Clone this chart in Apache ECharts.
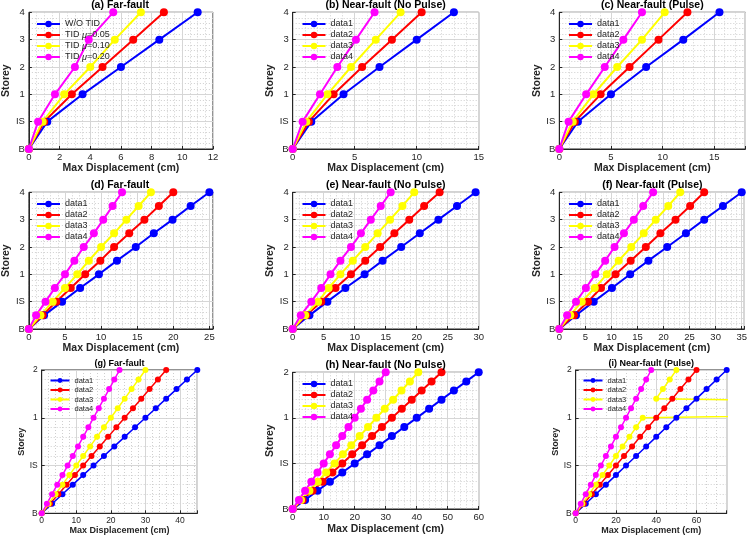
<!DOCTYPE html>
<html>
<head>
<meta charset="utf-8">
<script src="https://cdn.jsdelivr.net/npm/echarts@6/dist/echarts.min.js"></script>
<style>
html, body { margin: 0; padding: 0; background: #fff; }
#main { width: 750px; height: 539px; }
</style>
</head>
<body>
<div id="main"></div>
<script>
// storey axis labels and storey levels
var storeyTall = ['B', 'IS', '1', '2', '3', '4'];
var storeyShort = ['B', 'IS', '1', '2'];
var levelsA = [0, 1, 2, 3, 4, 5];
var levelsD = [0, 0.5, 1, 1.5, 2, 2.5, 3, 3.5, 4, 4.5, 5];
var levelsG = [0, 0.2, 0.4, 0.6, 0.8, 1, 1.2, 1.4, 1.6, 1.8, 2, 2.2, 2.4, 2.6, 2.8, 3];

var tidNames = ['W/O TID', 'TID μ=0.05', 'TID μ=0.10', 'TID μ=0.20'];
var dataNames = ['data1', 'data2', 'data3', 'data4'];
var colors = ['#0000ff', '#ff0000', '#ffff00', '#ff00ff'];

// (a) Far-fault
var a1 = [0, 1.2, 3.5, 6.0, 8.5, 11.0];
var a2 = [0, 1.0, 2.8, 4.8, 6.8, 8.8];
var a3 = [0, 0.9, 2.3, 4.0, 5.6, 7.3];
var a4 = [0, 0.6, 1.7, 3.0, 3.9, 5.5];
// (b) Near-fault (No Pulse)
var b1 = [0, 1.5, 4.1, 7.0, 10.0, 13.0];
var b2 = [0, 1.3, 3.3, 5.6, 8.0, 10.4];
var b3 = [0, 1.1, 2.8, 4.7, 6.7, 8.7];
var b4 = [0, 0.8, 2.2, 3.6, 5.1, 6.6];
// (c) Near-fault (Pulse)
var c1 = [0, 1.8, 5.0, 8.4, 12.0, 15.5];
var c2 = [0, 1.5, 4.0, 6.8, 9.6, 12.4];
var c3 = [0, 1.3, 3.3, 5.6, 8.0, 10.2];
var c4 = [0, 0.9, 2.6, 4.4, 6.2, 8.0];
// (d) Far-fault
var d1 = [0, 2.1, 4.6, 7.1, 9.7, 12.2, 14.8, 17.3, 19.9, 22.4, 25.0];
var d2 = [0, 1.9, 3.8, 5.8, 7.8, 9.9, 11.8, 13.9, 16.0, 18.0, 20.0];
var d3 = [0, 1.6, 3.3, 5.0, 6.7, 8.3, 10.0, 11.8, 13.5, 15.2, 16.9];
var d4 = [0, 1.0, 2.3, 3.6, 5.0, 6.3, 7.6, 9.0, 10.3, 11.6, 12.9];
// (e) Near-fault (No Pulse)
var e1 = [0, 2.7, 5.6, 8.5, 11.6, 14.5, 17.5, 20.5, 23.5, 26.5, 29.5];
var e2 = [0, 2.2, 4.6, 6.9, 9.4, 11.7, 14.1, 16.4, 18.8, 21.2, 23.7];
var e3 = [0, 2.0, 4.1, 5.8, 7.7, 9.7, 11.7, 13.7, 15.7, 17.7, 19.6];
var e4 = [0, 1.3, 3.0, 4.6, 6.1, 7.7, 9.4, 11.0, 12.6, 14.2, 15.8];
// (f) Near-fault (Pulse)
var f1 = [0, 3.2, 6.6, 10.1, 13.6, 17.1, 20.7, 24.3, 27.8, 31.4, 35.0];
var f2 = [0, 2.8, 5.5, 8.0, 10.8, 13.7, 16.6, 19.4, 22.3, 25.1, 27.8];
var f3 = [0, 2.1, 4.3, 6.8, 9.1, 11.4, 13.8, 16.2, 18.5, 20.9, 23.2];
var f4 = [0, 1.5, 3.2, 5.1, 6.9, 8.8, 10.6, 12.4, 14.3, 16.1, 18.0];
// (g) Far-fault
var g1 = [0, 3, 6, 9, 12, 15, 18, 21, 24, 27, 30, 33, 36, 39, 42, 45];
var g2 = [0, 2.4, 4.8, 7.2, 9.6, 12, 14.4, 16.8, 19.2, 21.6, 24, 26.4, 28.8, 31.2, 33.6, 36];
var g3 = [0, 2, 4, 6, 8, 10, 12, 14, 16, 18, 20, 22, 24, 26, 28, 30];
var g4 = [0, 1.5, 3, 4.5, 6, 7.5, 9, 10.5, 12, 13.5, 15, 16.5, 18, 19.5, 21, 22.5];
// (h) Near-fault (No Pulse)
var h1 = [0, 4, 8, 12, 16, 20, 24, 28, 32, 36, 40, 44, 48, 52, 56, 60];
var h2 = [0, 3.2, 6.4, 9.6, 12.8, 16, 19.2, 22.4, 25.6, 28.8, 32, 35.2, 38.4, 41.6, 44.8, 48];
var h3 = [0, 2.7, 5.4, 8.1, 10.8, 13.5, 16.2, 18.9, 21.6, 24.3, 27, 29.7, 32.4, 35.1, 37.8, 40.5];
var h4 = [0, 2, 4, 6, 8, 10, 12, 14, 16, 18, 20, 22, 24, 26, 28, 30];
// (i) Near-fault (Pulse) - data3 has one stray value far off the axis
var i1 = [0, 5, 10, 15, 20, 25, 30, 35, 40, 45, 50, 55, 60, 65, 70, 75];
var i2 = [0, 4, 8, 12, 16, 20, 24, 28, 32, 36, 40, 44, 48, 52, 56, 60];
var i3 = [0, 3.3, 6.7, 10, 13.3, 16.7, 20, 23.3, 26.7, 30, 33.3, 366.7, 40, 43.3, 46.7, 50];
var i4 = [0, 2.5, 5, 7.5, 10, 12.5, 15, 17.5, 20, 22.5, 25, 27.5, 30, 32.5, 35, 37.5];

var big = { tick: 9.5, title: 10.5, name: 10.5, legend: 9, ms: 8, lw: 2, itemGap: 2, iw: 23 };
var small = { tick: 8.5, title: 9, name: 9, legend: 7.5, ms: 6, lw: 1.5, itemGap: 1.5, iw: 19 };

var panels = [
    { title: '(a) Far-fault', names: tidNames, ys: levelsA, xs: [a1, a2, a3, a4], xMax: 12, xInt: 2, xMinor: 4, labels: storeyTall,
      box: [27, 12.3, 186, 136.7], lg: [36, 19.5], xGap: 12, yGap: 13, f: big },
    { title: '(b) Near-fault (No Pulse)', names: dataNames, ys: levelsA, xs: [b1, b2, b3, b4], xMax: 15, xInt: 5, xMinor: 5, labels: storeyTall,
      box: [292.7, 12.3, 186, 136.7], lg: [301.5, 19.5], xGap: 12, yGap: 14, f: big },
    { title: '(c) Near-fault (Pulse)', names: dataNames, ys: levelsA, xs: [c1, c2, c3, c4], xMax: 18, xInt: 5, xMinor: 5, labels: storeyTall,
      box: [559.3, 12.3, 186, 136.7], lg: [568, 19.5], xGap: 12, yGap: 14, f: big },
    { title: '(d) Far-fault', names: dataNames, ys: levelsD, xs: [d1, d2, d3, d4], xMax: 25.5, xInt: 5, xMinor: 5, labels: storeyTall,
      box: [27, 192.3, 186, 136.7], lg: [36, 199.5], xGap: 12, yGap: 13, f: big },
    { title: '(e) Near-fault (No Pulse)', names: dataNames, ys: levelsD, xs: [e1, e2, e3, e4], xMax: 30, xInt: 5, xMinor: 5, labels: storeyTall,
      box: [292.7, 192.3, 186, 136.7], lg: [301.5, 199.5], xGap: 12, yGap: 14, f: big },
    { title: '(f) Near-fault (Pulse)', names: dataNames, ys: levelsD, xs: [f1, f2, f3, f4], xMax: 35.5, xInt: 5, xMinor: 5, labels: storeyTall,
      box: [559.3, 192.3, 186, 136.7], lg: [568, 199.5], xGap: 12, yGap: 14, f: big },
    { title: '(g) Far-fault', names: dataNames, ys: levelsG, xs: [g1, g2, g3, g4], xMax: 45, xInt: 10, xMinor: 5, labels: storeyShort,
      box: [41.7, 370, 155.6, 143.3], lg: [49.5, 376.5], xGap: 13, yGap: 10, f: small },
    { title: '(h) Near-fault (No Pulse)', names: dataNames, ys: levelsG, xs: [h1, h2, h3, h4], xMax: 60, xInt: 10, xMinor: 5, labels: storeyShort,
      box: [292.7, 372.3, 186, 136.7], lg: [301.5, 379.5], xGap: 15, yGap: 14, f: big },
    { title: '(i) Near-fault (Pulse)', names: dataNames, ys: levelsG, xs: [i1, i2, i3, i4], xMax: 75, xInt: 20, xMinor: 4, labels: storeyShort,
      box: [575.7, 370, 151, 143.3], lg: [582.5, 376.5], xGap: 13, yGap: 10, f: small }
];

var font = 'Liberation Sans, Arial, sans-serif';
var grids = [], xAxes = [], yAxes = [], series = [], legends = [], titles = [];

panels.forEach(function (p, i) {
    var b = p.box, f = p.f;
    grids.push({ left: b[0], top: b[1], width: b[2], height: b[3], show: true, borderColor: '#262626', borderWidth: 1 });
    xAxes.push({
        gridIndex: i, type: 'value', min: 0, max: p.xMax, interval: p.xInt,
        name: 'Max Displacement (cm)', nameLocation: 'middle', nameGap: p.xGap,
        nameTextStyle: { fontFamily: font, fontWeight: 'bold', fontSize: f.name, color: '#262626' },
        axisLine: { show: true, lineStyle: { color: '#262626', width: 1 } },
        axisTick: { show: true, inside: true, length: 3, lineStyle: { color: '#262626' } },
        axisLabel: { fontFamily: font, fontSize: f.tick, color: '#262626', margin: 3,
            formatter: function (v) { return v % p.xInt === 0 ? String(v) : ''; } },
        splitLine: { show: true, lineStyle: { color: '#d6d6d6', width: 1 } },
        minorTick: { show: false, splitNumber: p.xMinor },
        minorSplitLine: { show: true, lineStyle: { color: '#cfcfcf', type: [1, 2], width: 1 } }
    });
    yAxes.push({
        gridIndex: i, type: 'value', min: 0, max: p.labels.length - 1, interval: 1,
        name: 'Storey', nameLocation: 'middle', nameGap: p.yGap,
        nameTextStyle: { fontFamily: font, fontWeight: 'bold', fontSize: f.name, color: '#262626' },
        axisLine: { show: true, lineStyle: { color: '#262626', width: 1 } },
        axisTick: { show: true, inside: true, length: 3, lineStyle: { color: '#262626' } },
        axisLabel: { fontFamily: font, fontSize: f.tick, color: '#262626', margin: 4,
            formatter: function (v) { return p.labels[Math.round(v)]; } },
        splitLine: { show: true, lineStyle: { color: '#d6d6d6', width: 1 } },
        minorTick: { show: false, splitNumber: 5 },
        minorSplitLine: { show: true, lineStyle: { color: '#cfcfcf', type: [1, 2], width: 1 } }
    });
    p.xs.forEach(function (xs, k) {
        series.push({
            type: 'line', name: p.names[k], xAxisIndex: i, yAxisIndex: i,
            data: xs.map(function (x, j) { return [x, p.ys[j]]; }),
            symbol: 'circle', symbolSize: f.ms, showAllSymbol: true,
            lineStyle: { color: colors[k], width: f.lw },
            itemStyle: { color: colors[k] },
            animation: false
        });
    });
    legends.push({
        data: p.names, orient: 'vertical', left: p.lg[0], top: p.lg[1], padding: 0,
        itemWidth: f.iw, itemHeight: f.ms, itemGap: f.itemGap, selectedMode: false,
        textStyle: { fontFamily: font, fontSize: f.legend, color: '#262626',
            rich: { m: { fontFamily: font, fontSize: f.legend, fontStyle: 'italic', color: '#262626' } } },
        formatter: function (name) { return name.replace('μ', '{m|μ}'); }
    });
    titles.push({
        text: p.title, left: b[0] + b[2] / 2, top: b[1] - f.title - 2, textAlign: 'center', padding: 0,
        textStyle: { fontFamily: font, fontWeight: 'bold', fontSize: f.title, color: '#000' }
    });
});

var myChart = echarts.init(document.getElementById('main'));
myChart.setOption({
    animation: false,
    backgroundColor: '#fff',
    title: titles,
    legend: legends,
    grid: grids,
    xAxis: xAxes,
    yAxis: yAxes,
    series: series
});
</script>
</body>
</html>
